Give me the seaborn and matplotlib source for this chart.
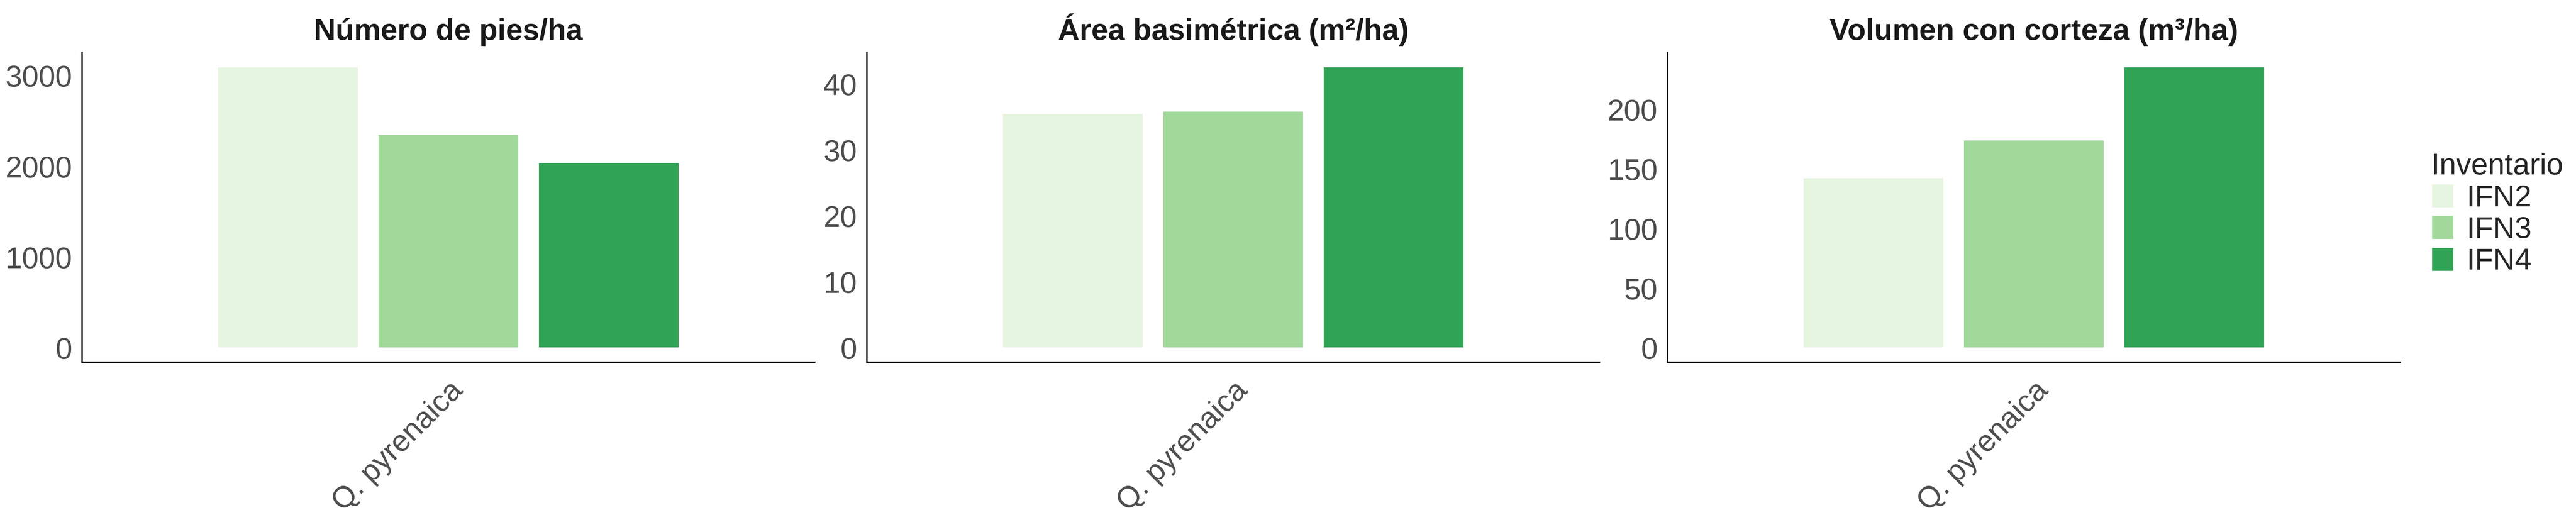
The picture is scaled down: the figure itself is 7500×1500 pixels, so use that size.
import pandas as pd
import matplotlib.pyplot as plt
import seaborn as sns
from matplotlib.ticker import MultipleLocator

# Data
especies = ["Q. pyrenaica"]
inventarios = ["IFN2", "IFN3", "IFN4"]
pies_ha = [3102, 2356, 2045]
area_basimetrica = [35.6, 36.0, 42.7]
volumen_cc = [142.9, 174.6, 236.0]

colores = ["#E5F5E0", "#A1D99B", "#31A354"]
titulos = ["Número de pies/ha", "Área basimétrica (m²/ha)", "Volumen con corteza (m³/ha)"]
pasos = [1000, 10, 50]

df = pd.DataFrame({
    "Especie": especies * len(inventarios),
    "Inventario": inventarios,
    "pies": pies_ha,
    "ab": area_basimetrica,
    "vcc": volumen_cc,
})
variables = ["pies", "ab", "vcc"]

# Style
sns.set_style("white")
plt.rcParams["font.family"] = ["Liberation Sans", "DejaVu Sans"]

fig = plt.figure(figsize=(25, 5), dpi=300)
lefts = [239 / 7500, 2524 / 7500, 4855 / 7500]
width = 2133 / 7500
bottom = 1 - 1055 / 1500
height = (1055 - 153) / 1500

for i, var in enumerate(variables):
    ax = fig.add_axes([lefts[i], bottom, width, height])
    sns.barplot(data=df, x="Especie", y=var, hue="Inventario",
                hue_order=inventarios, palette=colores, width=0.92, gap=0.12,
                saturation=1, ax=ax, legend=(i == 2))
    vmax = df[var].max()
    ax.set_ylim(-0.05 * vmax, 1.05 * vmax)
    ax.set_xlim(-0.7, 0.7)
    ax.yaxis.set_major_locator(MultipleLocator(pasos[i]))
    ax.set_title(titulos[i], fontsize=21, fontweight="bold", color="#1A1A1A", pad=9)
    ax.set_xlabel("")
    ax.set_ylabel("")
    for s in ["top", "right"]:
        ax.spines[s].set_visible(False)
    for s in ["left", "bottom"]:
        ax.spines[s].set_color("black")
        ax.spines[s].set_linewidth(1.0)
    ax.tick_params(axis="both", length=0, labelsize=21, labelcolor="#4D4D4D")
    ax.tick_params(axis="y", pad=7)
    ax.tick_params(axis="x", pad=10)
    for lab in ax.get_xticklabels():
        lab.set_rotation(45)
        lab.set_ha("right")
        lab.set_va("top")
        lab.set_rotation_mode("anchor")
    ax.grid(False)

    if i == 2:
        handles, labels = ax.get_legend_handles_labels()
        ax.get_legend().remove()
        fig.legend(handles, labels, title="Inventario", loc="upper left",
                   bbox_to_anchor=(7079 / 7500, 1 - 445 / 1500),
                   frameon=False, fontsize=21, title_fontsize=21,
                   handlelength=0.75, handleheight=0.87, handletextpad=0.42,
                   labelspacing=0.1, borderpad=0, borderaxespad=0,
                   alignment="left")

plt.savefig("out.png", dpi=300)
plt.close()
